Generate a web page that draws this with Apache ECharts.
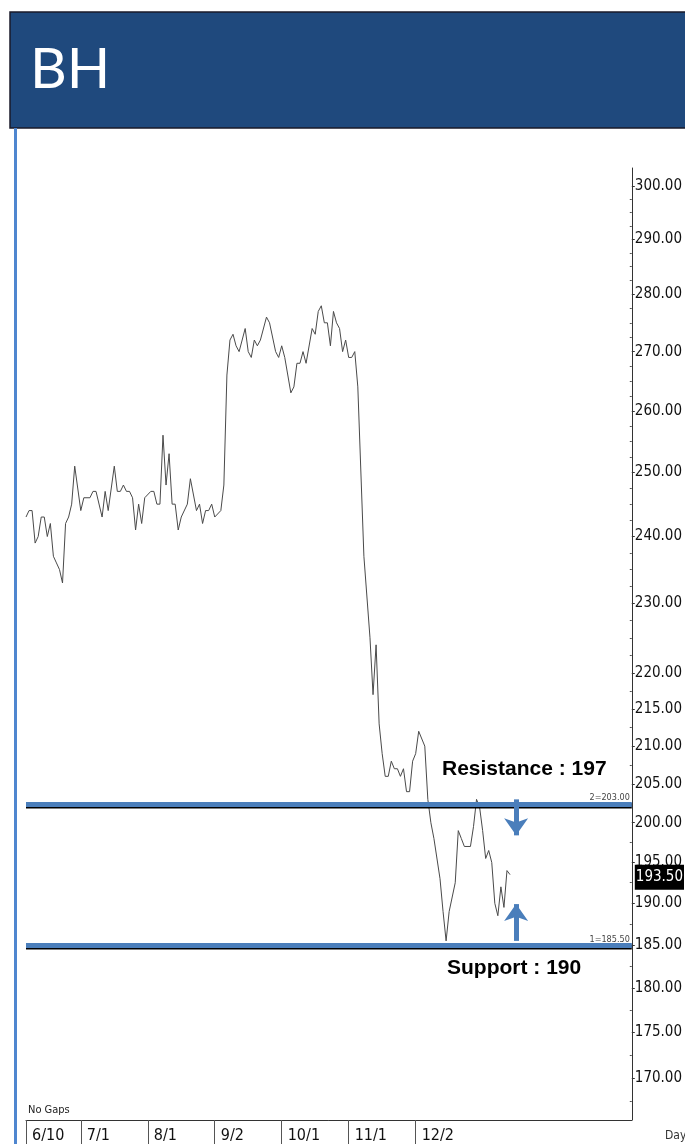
<!DOCTYPE html>
<html><head><meta charset="utf-8">
<script src="https://cdn.jsdelivr.net/npm/echarts@6/dist/echarts.min.js"></script>
<style>html,body{margin:0;padding:0;background:#fff;overflow:hidden}#c{width:685px;height:1144px}</style>
</head><body><div id="c"></div>
<script>
// ---- data ----
const titleText = 'BH';
const dayIdx = [0,1,2,3,4,5,6,7,8,9,10,11,12,13,14,15,16,18,19,21,22,23,25,26,27,29,30,31,32,33,34,35,36,37,38,39,41,42,43,44,45,46,47,48,49,50,51,53,54,56,57,58,59,60,61,62,64,65,66,67,68,69,70,72,73,74,75,76,77,79,80,82,83,84,85,87,88,89,90,91,92,94,95,96,97,98,99,100,101,102,103,104,105,106,107,108,109,111,113,114,115,116,117,118,119,120,121,122,123,124,125,126,127,128,129,131,132,133,134,136,137,138,139,141,142,143,144,146,147,148,149,150,151,152,153,154,155,156,157,158,159];
const closePrice = [243,244,244,239,240,243,243,240,242,237,236,235,233,242,243,245,251,244,246,246,247,247,243,247,244,251,247,247,248,247,247,246,241,245,242,246,247,247,245,245,256,248,253,245,245,241,243,245,249,244,245,242,244,244,245,243,244,248,266,272,273,271,270,274,270,269,272,271,272,276,275,270,269,271,269,263,264,268,268,270,268,274,273,277,278,275,275,271,277,275,274,270,272,269,269,270,264,237,225,217,224,213,209,206,206,208,207,207,206,207,204,204,208,209,212,210,203,200,198,193,189,185.5,189,192.5,199,198,197,197,199.5,203,202,199,195.5,196.5,195,190,188.5,192,189.5,194,193.5];
const monthTickIdx = [0,18,40,62,84,106,128];
const monthLabels = ['6/10','7/1','8/1','9/2','10/1','11/1','12/2'];
const priceTicks = [300,290,280,270,260,250,240,230,220,215,210,205,200,195,190,185,180,175,170];
const minorPriceTicks = [297.5,295,292.5,287.5,285,282.5,277.5,275,272.5,267.5,265,262.5,257.5,255,252.5,247.5,245,242.5,237.5,235,232.5,227.5,225,222.5,217.5,212.5,207.5,202.5,197.5,192.5,187.5,182.5,177.5,172.5,167.5];
const yRange = [165.5, 303.5];
const xRange = [0, 199];
const resistanceLevel = 203.0;
const supportLevel = 185.5;
const lastPrice = 193.5;
const arrowDay = 161;
const downArrow = [203.0, 198.4];
const upArrow = [185.5, 189.9];
const resistanceText = 'Resistance : 197';
const supportText = 'Support : 190';

// ---- chart ----
const L = Math.log;
const BLUE = '#4a7ebb';
const NARROW = '"Liberation Sans Narrow","DejaVu Sans Condensed","Arial Narrow",sans-serif';
const chart = echarts.init(document.getElementById('c'), null, {renderer: 'canvas'});
const fmtP = v => Math.exp(v).toFixed(2);
const option = {
  animation: false,
  backgroundColor: '#fff',
  grid: {left: 26, right: 53, top: 168, height: 953, containLabel: false},
  xAxis: {
    type: 'value', min: xRange[0], max: xRange[1],
    axisLine: {show: true, onZero: false, lineStyle: {color: '#333', width: 1}},
    axisTick: {show: true, customValues: monthTickIdx, length: 30, lineStyle: {color: '#555'}},
    axisLabel: {show: true, customValues: monthTickIdx, align: 'left', margin: 8, padding: [0,0,0,6],
      color: '#111', fontSize: 16, fontFamily: NARROW,
      formatter: v => monthLabels[monthTickIdx.indexOf(Math.round(v))] || ''},
    splitLine: {show: false}
  },
  yAxis: [{
    type: 'value', position: 'right', min: L(yRange[0]), max: L(yRange[1]),
    axisLine: {show: true, onZero: false, lineStyle: {color: '#333', width: 1}},
    axisTick: {show: true, customValues: priceTicks.map(L), length: 3, lineStyle: {color: '#333'}},
    axisLabel: {show: true, customValues: priceTicks.map(L), margin: 3, color: '#111', fontSize: 15,
      fontFamily: NARROW, formatter: fmtP},
    splitLine: {show: false}
  }, {
    type: 'value', position: 'right', min: L(yRange[0]), max: L(yRange[1]),
    axisLine: {show: false, onZero: false},
    axisTick: {show: true, inside: true, customValues: minorPriceTicks.map(L), length: 2, lineStyle: {color: '#555'}},
    axisLabel: {show: false},
    splitLine: {show: false}
  }],
  series: [{
    type: 'line',
    yAxisIndex: 0,
    data: dayIdx.map((d, i) => [d, L(closePrice[i])]),
    showSymbol: false, symbol: 'none',
    lineStyle: {color: '#4a4a4a', width: 1},
    z: 3,
    markLine: {
      silent: true, symbol: 'none', animation: false,
      data: [
        {yAxis: L(resistanceLevel),
          lineStyle: {color: BLUE, width: 5, type: 'solid', shadowColor: '#000', shadowOffsetY: 1.5, shadowBlur: 0},
          label: {show: true, position: 'insideEndTop', formatter: '2=' + resistanceLevel.toFixed(2),
            fontSize: 9, color: '#444', fontFamily: NARROW, distance: 2}},
        {yAxis: L(supportLevel),
          lineStyle: {color: BLUE, width: 5, type: 'solid', shadowColor: '#000', shadowOffsetY: 1.5, shadowBlur: 0},
          label: {show: true, position: 'insideEndTop', formatter: '1=' + supportLevel.toFixed(2),
            fontSize: 9, color: '#444', fontFamily: NARROW, distance: 2}},
        {yAxis: L(lastPrice), lineStyle: {color: 'rgba(0,0,0,0)', width: 0},
          label: {show: true, position: 'end', formatter: lastPrice.toFixed(2), distance: 3,
            verticalAlign: 'middle', align: 'left', offset: [0, 10],
            backgroundColor: '#000', color: '#fff', fontSize: 15, fontFamily: NARROW, padding: [5, 1, 5, 1]}},
        [{coord: [arrowDay, L(downArrow[0])], symbol: 'none'},
         {coord: [arrowDay, L(downArrow[1])], symbol: 'arrow', symbolSize: [18, 17],
          lineStyle: {color: BLUE, width: 5, type: 'solid'}, label: {show: false}}],
        [{coord: [arrowDay, L(upArrow[0])], symbol: 'none'},
         {coord: [arrowDay, L(upArrow[1])], symbol: 'arrow', symbolSize: [18, 17],
          lineStyle: {color: BLUE, width: 5, type: 'solid'}, label: {show: false}}]
      ]
    }
  }],
  graphic: [
    {type: 'rect', shape: {x: 10, y: 12, width: 690, height: 116},
      style: {fill: '#1f497d', stroke: '#1a1a2a', lineWidth: 1.5}, z: 10},
    {type: 'text', x: 30, y: 70, z: 11,
      style: {text: titleText, fill: '#fff', font: '57px Lato, "Open Sans", sans-serif', verticalAlign: 'middle'}},
    {type: 'rect', shape: {x: 14, y: 128, width: 3, height: 1016}, style: {fill: '#4f86cf'}, z: 10},
    {type: 'text', x: 442, y: 769, z: 11,
      style: {text: resistanceText, fill: '#000', font: 'bold 21px "Liberation Sans", Arial, sans-serif', verticalAlign: 'middle'}},
    {type: 'text', x: 447, y: 968, z: 11,
      style: {text: supportText, fill: '#000', font: 'bold 21px "Liberation Sans", Arial, sans-serif', verticalAlign: 'middle'}},
    {type: 'text', x: 28, y: 1110, z: 11,
      style: {text: 'No Gaps', fill: '#222', font: '11px ' + NARROW, verticalAlign: 'middle'}},
    {type: 'text', x: 665, y: 1130, z: 11,
      style: {text: 'Day', fill: '#333', font: '12px ' + NARROW, verticalAlign: 'top'}}
  ]
};
chart.setOption(option);
</script>
</body></html>
